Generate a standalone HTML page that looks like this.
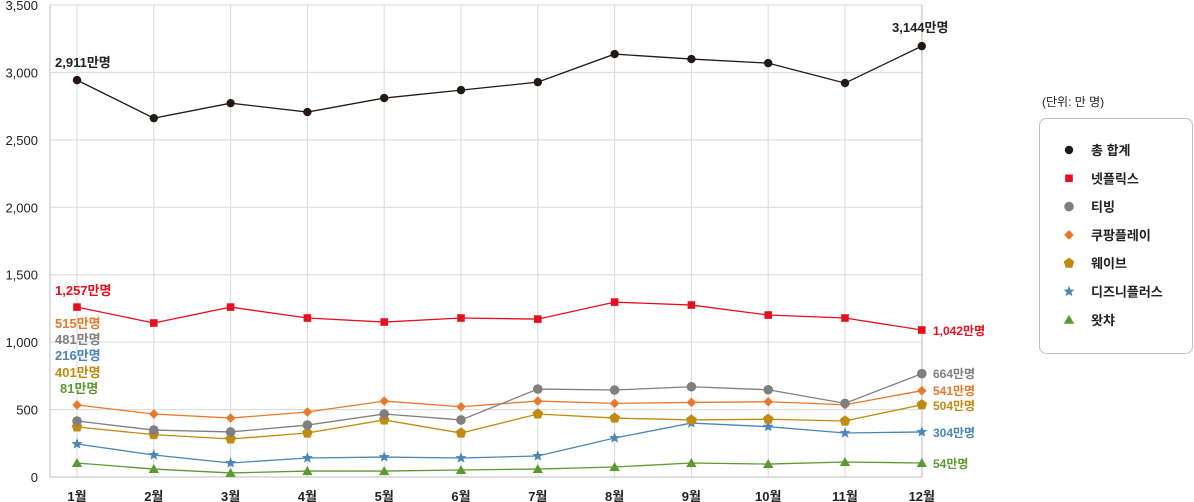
<!DOCTYPE html>
<html><head><meta charset="utf-8"><style>
body{margin:0;background:#fff;font-family:"Liberation Sans","Noto Sans CJK KR",sans-serif}
svg{display:block}
text{font-family:"Liberation Sans","Noto Sans CJK KR",sans-serif}
</style></head><body>
<svg id="c" width="1194" height="502"></svg>
<script>
const months=["1월","2월","3월","4월","5월","6월","7월","8월","9월","10월","11월","12월"];
const yTicks=[0,500,1000,1500,2000,2500,3000,3500];
const yTickLabels=["0","500","1,000","1,500","2,000","2,500","3,000","3,500"];
const total=[2943,2661,2772,2706,2810,2869,2928,3136,3099,3069,2921,3195];
const netflix=[1260,1142,1260,1179,1149,1179,1171,1297,1275,1201,1179,1090];
const tving=[415,348,334,385,467,423,652,645,669,647,546,766];
const coupang=[534,467,437,482,563,521,563,546,553,558,536,640];
const wavve=[371,314,282,326,423,326,467,437,423,428,415,536];
const disney=[245,163,104,141,148,141,156,289,400,373,326,334];
const watcha=[104,59,30,44,44,52,59,74,104,96,111,104];
const seriesNames=["총 합계","넷플릭스","티빙","쿠팡플레이","웨이브","디즈니플러스","왓챠"];

const NS="http://www.w3.org/2000/svg";
const svg=document.getElementById('c');
function mk(t,a,p){const e=document.createElementNS(NS,t);for(const k in a)e.setAttribute(k,a[k]);(p||svg).appendChild(e);return e;}
const X=i=>77+i*76.8;
const Y=v=>477-v*(472/3500);
const L=50,R=922;
yTicks.forEach((v,i)=>{
  const g=mk('line',{x1:L,x2:R,y1:Y(v),y2:Y(v),stroke:'#d9d9d9','stroke-width':1});
  
  const t=mk('text',{x:38,y:Y(v)+5,'text-anchor':'end','font-size':13,fill:'#222'});
  t.textContent=yTickLabels[i];
  
});
months.forEach((m,i)=>{
  const g=mk('line',{x1:X(i),x2:X(i),y1:Y(3500),y2:Y(0),stroke:'#d9d9d9','stroke-width':1});
  
  const t=mk('text',{x:X(i),y:501,'text-anchor':'middle','font-size':13,'font-weight':'bold',fill:'#222'});
  t.textContent=m;
  
});
const lb=mk('line',{x1:L,x2:L,y1:Y(3500),y2:Y(0),stroke:'#bfbfbf'});

const rb=mk('line',{x1:R,x2:R,y1:Y(3500),y2:Y(0),stroke:'#bfbfbf'});

const bb=mk('line',{x1:L,x2:R,y1:Y(0),y2:Y(0),stroke:'#bfbfbf'});


function marker(type,x,y,col,p){
  let e;
  if(type==='circle'||type==='hex')e=mk('circle',{cx:x,cy:y,r:type==='circle'?4.2:4.8,fill:col},p);
  else if(type==='square')e=mk('rect',{x:x-3.8,y:y-3.8,width:7.6,height:7.6,fill:col},p);
  else if(type==='diamond')e=mk('polygon',{points:`${x},${y-4.8} ${x+4.8},${y} ${x},${y+4.8} ${x-4.8},${y}`,fill:col},p);
  else if(type==='pent'){let pts=[];for(let k=0;k<5;k++){const a=-Math.PI/2+k*2*Math.PI/5;pts.push((x+5.6*Math.cos(a))+','+(y+5.6*Math.sin(a)));}e=mk('polygon',{points:pts.join(' '),fill:col},p);}
  else if(type==='star'){let pts=[];for(let k=0;k<10;k++){const a=-Math.PI/2+k*Math.PI/5,r=k%2?2.5:5.8;pts.push((x+r*Math.cos(a))+','+(y+r*Math.sin(a)));}e=mk('polygon',{points:pts.join(' '),fill:col},p);}
  else e=mk('polygon',{points:`${x},${y-5} ${x+5.2},${y+4} ${x-5.2},${y+4}`,fill:col},p);
  return e;
}
const series=[
 [total,'#231815','circle','total'],[netflix,'#e60f1e','square','netflix'],[tving,'#7f7f7f','hex','tving'],
 [coupang,'#e8782a','diamond','coupang-play'],[wavve,'#c18a10','pent','wavve'],[disney,'#4a86b8','star','disney-plus'],[watcha,'#5b9a32','tri','watcha']];
series.slice().reverse().forEach(s=>{
  const g=mk('g',{});
  
  const pl=mk('polyline',{points:s[0].map((v,i)=>X(i)+','+Y(v)).join(' '),fill:'none',stroke:s[1],'stroke-width':1.3},g);
  
  s[0].forEach((v,i)=>{const m=marker(s[2],X(i),Y(v),s[1],g);
    });
});
const ann=[["2,911만명",55,67,'#222'],["3,144만명",892,32,'#222'],["1,257만명",55,295,'#e60f1e'],["1,042만명",933,335,'#e60f1e'],
["515만명",55,328,'#e8782a'],["481만명",55,344,'#7f7f7f'],["216만명",55,360,'#4a86b8'],["401만명",55,377,'#c18a10'],["81만명",60,393,'#5b9a32'],
["664만명",933,378,'#7f7f7f'],["541만명",933,395,'#e8782a'],["504만명",933,410,'#c18a10'],["304만명",933,437,'#4a86b8'],["54만명",933,468,'#5b9a32']];
ann.forEach(a=>{const big=a[1]<900||a[0].length>7;const t=mk('text',{x:a[1],y:a[2],fill:a[3],'font-size':(a[1]<900?13:12),'font-weight':'bold'});t.textContent=a[0];
 });
const ut=mk('text',{x:1042,y:106,'font-size':12,fill:'#222'});ut.textContent="(단위: 만 명)";

const lg=mk('g',{});
mk('rect',{x:1039.5,y:118.5,width:153,height:235,rx:7,fill:'#fff',stroke:'#bfbfbf'},lg);
series.forEach((s,i)=>{const y=150+i*28.3;
 const e=mk('g',{},lg);
 marker(s[2],1069,y,s[1],e);
 const t=mk('text',{x:1091,y:y+5,'font-size':13,'font-weight':'bold',fill:'#222'},e);t.textContent=seriesNames[i];});
</script>
</body></html>
